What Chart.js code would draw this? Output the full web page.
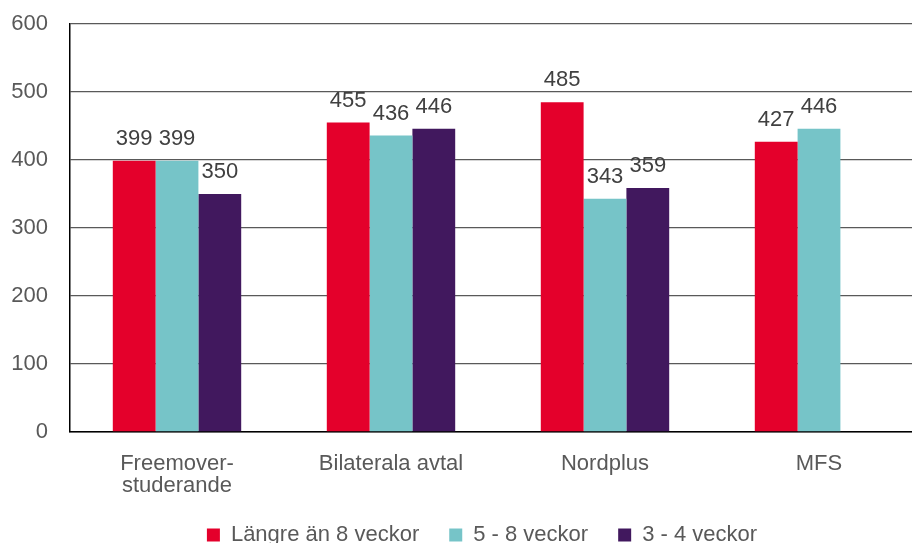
<!DOCTYPE html>
<html>
<head>
<meta charset="utf-8">
<script src="https://cdn.jsdelivr.net/npm/chart.js@4/dist/chart.umd.min.js"></script>
<style>
  html, body { margin: 0; padding: 0; background: #fff; overflow: hidden; }
  #wrap { width: 930px; height: 556px; }
</style>
</head>
<body>
<div id="wrap"><canvas id="chart" width="930" height="556"></canvas></div>
<script>
// Data
const categories = [['Freemover-', 'studerande'], 'Bilaterala avtal', 'Nordplus', 'MFS'];
const seriesNames = ['Längre än 8 veckor', '5 - 8 veckor', '3 - 4 veckor'];
const longer8 = [399, 455, 485, 427];
const weeks5to8 = [399, 436, 343, 446];
const weeks3to4 = [350, 446, 359, null];
const yTicks = [0, 100, 200, 300, 400, 500, 600];

const colors = ['#e4002b', '#76c4c8', '#41185e'];
const FONT = "'Liberation Sans', Arial, sans-serif";

// simple value labels above each bar
const valueLabels = {
  id: 'valueLabels',
  afterDatasetsDraw(chart) {
    const ctx = chart.ctx;
    ctx.save();
    ctx.font = '22px ' + FONT;
    ctx.fillStyle = '#404040';
    ctx.textAlign = 'center';
    ctx.textBaseline = 'alphabetic';
    chart.data.datasets.forEach((ds, i) => {
      const meta = chart.getDatasetMeta(i);
      meta.data.forEach((bar, j) => {
        const v = ds.data[j];
        if (v == null) return;
        ctx.fillText(String(v), bar.x, bar.y - 16);
      });
    });
    ctx.restore();
  }
};

// the legend in the original sits a bit right of centre
const legendShift = {
  id: 'legendShift',
  afterLayout(chart) {
    if (!chart.legend) return;
    chart.legend.left += 19;
    chart.legend.right += 19;
  }
};

new Chart(document.getElementById('chart'), {
  type: 'bar',
  data: {
    labels: categories,
    datasets: [
      { label: seriesNames[0], data: longer8,   backgroundColor: colors[0] },
      { label: seriesNames[1], data: weeks5to8, backgroundColor: colors[1] },
      { label: seriesNames[2], data: weeks3to4, backgroundColor: colors[2] },
    ],
  },
  options: {
    responsive: false,
    animation: false,
    devicePixelRatio: 1,
    layout: { padding: { top: 24, right: 4, left: 0, bottom: 0 } },
    datasets: { bar: { categoryPercentage: 0.6, barPercentage: 1.0 } },
    plugins: {
      tooltip: { enabled: false },
      legend: {
        position: 'bottom',
        labels: {
          font: { family: FONT, size: 22 },
          color: '#595959',
          boxWidth: 13,
          boxHeight: 13,
          padding: 30,
        },
      },
    },
    scales: {
      x: {
        grid: { display: false, drawTicks: false },
        border: { color: '#000', width: 1.5 },
        ticks: {
          font: { family: FONT, size: 22, lineHeight: 1.0 },
          color: '#595959',
          padding: 21,
          maxRotation: 0,
        },
        afterFit: s => {
          s.height = 62;
          s.paddingLeft = 0; s.paddingRight = 0; s.paddingTop = 0; s.paddingBottom = 0;
        },
      },
      y: {
        min: 0,
        max: 600,
        afterBuildTicks: s => { s.ticks = yTicks.map(v => ({ value: v })); },
        grid: { color: '#595959', lineWidth: 1.3, drawTicks: false },
        border: { color: '#000', width: 1.5 },
        ticks: {
          font: { family: FONT, size: 22 },
          color: '#595959',
          padding: 22,
        },
        afterFit: s => {
          s.width = 70;
          s.paddingLeft = 0; s.paddingRight = 0; s.paddingTop = 0; s.paddingBottom = 0;
        },
      },
    },
  },
  plugins: [valueLabels, legendShift],
});
</script>
</body>
</html>
